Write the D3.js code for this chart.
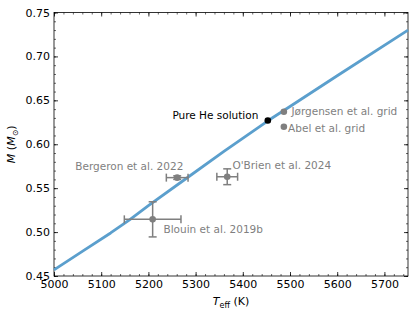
<!DOCTYPE html>
<html>
<head>
<meta charset="utf-8">
<script src="https://cdn.jsdelivr.net/npm/d3@7"></script>
<style>
  body { margin: 0; background: #fff; }
  svg text { font-family: "DejaVu Sans", sans-serif; }
</style>
</head>
<body>
<div id="chart"></div>
<script>
// mass-temperature relation (pure He)
const curveT = [5000, 5060, 5120, 5160, 5200, 5280, 5360, 5454, 5500, 5600, 5750];
const curveM = [0.457, 0.478, 0.499, 0.514, 0.530, 0.561, 0.592, 0.627, 0.643, 0.678, 0.730];

// literature points with error bars
const refNames = ["Bergeron et al. 2022", "O'Brien et al. 2024", "Blouin et al. 2019b"];
const refT = [5261, 5367, 5209];
const refTerr = [23, 22, 60];
const refM = [0.562, 0.563, 0.5145];
const refMerr = [0.002, 0.009, 0.020];

// grid points without error bars
const gridNames = ["Jørgensen et al. grid", "Abel et al. grid"];
const gridT = [5487, 5487];
const gridM = [0.637, 0.620];

const pureHe = { T: 5453, M: 0.627 };

const xTicks = [5000, 5100, 5200, 5300, 5400, 5500, 5600, 5700];
const yTicks = [0.45, 0.50, 0.55, 0.60, 0.65, 0.70, 0.75];

const W = 415, H = 315;
const margin = { top: 12.5, right: 7, bottom: 39, left: 54 };

const svg = d3.select("#chart").append("svg")
  .attr("width", W)
  .attr("height", H);

const x = d3.scaleLinear().domain([5000, 5750]).range([margin.left, W - margin.right]);
const y = d3.scaleLinear().domain([0.45, 0.75]).range([H - margin.bottom, margin.top]);

const gray = "#7f7f7f";
const blue = "#5b9fcd";

// axes, ticks pointing inward on all four sides
const xMinor = d3.range(5000, 5751, 20);
const yMinor = d3.range(0.45, 0.7501, 0.01);

function tickAxis(axisFn, scale, ticks, minor, transform, labels) {
  svg.append("g")
    .attr("transform", transform)
    .call(axisFn(scale).tickValues(minor).tickSize(-2).tickFormat(""))
    .call(g => g.select(".domain").remove())
    .selectAll("line").attr("stroke", "#000").attr("stroke-width", 0.6);
  const g = svg.append("g")
    .attr("transform", transform)
    .call(axisFn(scale).tickValues(ticks).tickSize(-4).tickPadding(4)
      .tickFormat(labels ? labels : ""));
  g.select(".domain").remove();
  g.selectAll("line").attr("stroke", "#000").attr("stroke-width", 0.8);
  g.selectAll("text").attr("fill", "#000").style("font-size", "11px");
  return g;
}

const bx = H - margin.bottom, rx = W - margin.right;
tickAxis(d3.axisBottom, x, xTicks, xMinor, `translate(0,${bx})`, d3.format("d"));
tickAxis(d3.axisTop, x, xTicks, xMinor, `translate(0,${margin.top})`, null);
tickAxis(d3.axisLeft, y, yTicks, yMinor, `translate(${margin.left},0)`, d3.format(".2f"));
tickAxis(d3.axisRight, y, yTicks, yMinor, `translate(${rx},0)`, null);

svg.append("rect")
  .attr("x", margin.left).attr("y", margin.top)
  .attr("width", rx - margin.left).attr("height", bx - margin.top)
  .attr("fill", "none").attr("stroke", "#000").attr("stroke-width", 0.8);

// curve
const line = d3.line().x((d, i) => x(curveT[i])).y(d => y(d));
svg.append("path")
  .datum(curveM)
  .attr("fill", "none")
  .attr("stroke", blue)
  .attr("stroke-width", 2.8)
  .attr("stroke-linejoin", "round")
  .attr("d", line);

// error bars
refNames.forEach((name, i) => {
  const g = svg.append("g").attr("stroke", gray).attr("stroke-width", 1.5);
  const cx = x(refT[i]), cy = y(refM[i]);
  const x0 = x(refT[i] - refTerr[i]), x1 = x(refT[i] + refTerr[i]);
  const y0 = y(refM[i] - refMerr[i]), y1 = y(refM[i] + refMerr[i]);
  g.append("line").attr("x1", x0).attr("x2", x1).attr("y1", cy).attr("y2", cy);
  g.append("line").attr("x1", cx).attr("x2", cx).attr("y1", y0).attr("y2", y1);
  g.append("line").attr("x1", x0).attr("x2", x0).attr("y1", cy - 4).attr("y2", cy + 4);
  g.append("line").attr("x1", x1).attr("x2", x1).attr("y1", cy - 4).attr("y2", cy + 4);
  g.append("line").attr("x1", cx - 4).attr("x2", cx + 4).attr("y1", y0).attr("y2", y0);
  g.append("line").attr("x1", cx - 4).attr("x2", cx + 4).attr("y1", y1).attr("y2", y1);
  svg.append("circle").attr("cx", cx).attr("cy", cy).attr("r", 3.3).attr("fill", gray);
});

gridNames.forEach((name, i) => {
  svg.append("circle").attr("cx", x(gridT[i])).attr("cy", y(gridM[i]))
    .attr("r", 3.3).attr("fill", gray);
});

svg.append("circle").attr("cx", x(pureHe.T)).attr("cy", y(pureHe.M))
  .attr("r", 3.3).attr("fill", "#000");

// annotations
const notes = [
  { text: "Pure He solution", T: 5433, M: 0.629, anchor: "end", color: "#000" },
  { text: gridNames[0], T: 5503, M: 0.6335, anchor: "start", color: gray },
  { text: gridNames[1], T: 5496, M: 0.6145, anchor: "start", color: gray },
  { text: refNames[0], T: 5045, M: 0.571, anchor: "start", color: gray },
  { text: refNames[1], T: 5378, M: 0.5715, anchor: "start", color: gray },
  { text: refNames[2], T: 5232, M: 0.4995, anchor: "start", color: gray }
];
svg.selectAll(".note")
  .data(notes)
  .join("text")
  .attr("class", "note")
  .attr("x", d => x(d.T))
  .attr("y", d => y(d.M))
  .attr("text-anchor", d => d.anchor)
  .attr("fill", d => d.color)
  .style("font-size", "10.5px")
  .text(d => d.text);

// axis labels
const xl = svg.append("text")
  .attr("x", (margin.left + rx) / 2)
  .attr("y", H - 10)
  .attr("text-anchor", "middle")
  .style("font-size", "11px");
xl.append("tspan").attr("font-style", "italic").text("T");
xl.append("tspan").attr("dy", 2.5).style("font-size", "8px").text("eff");
xl.append("tspan").attr("dy", -2.5).text(" (K)");

const yl = svg.append("text")
  .attr("transform", `translate(15,${(margin.top + bx) / 2}) rotate(-90)`)
  .attr("text-anchor", "middle")
  .style("font-size", "11px");
yl.append("tspan").attr("font-style", "italic").text("M");
yl.append("tspan").text(" (");
yl.append("tspan").attr("font-style", "italic").text("M");
yl.append("tspan").attr("dy", 2.5).style("font-size", "8px").text("⊙");
yl.append("tspan").attr("dy", -2.5).text(")");
</script>
</body>
</html>
